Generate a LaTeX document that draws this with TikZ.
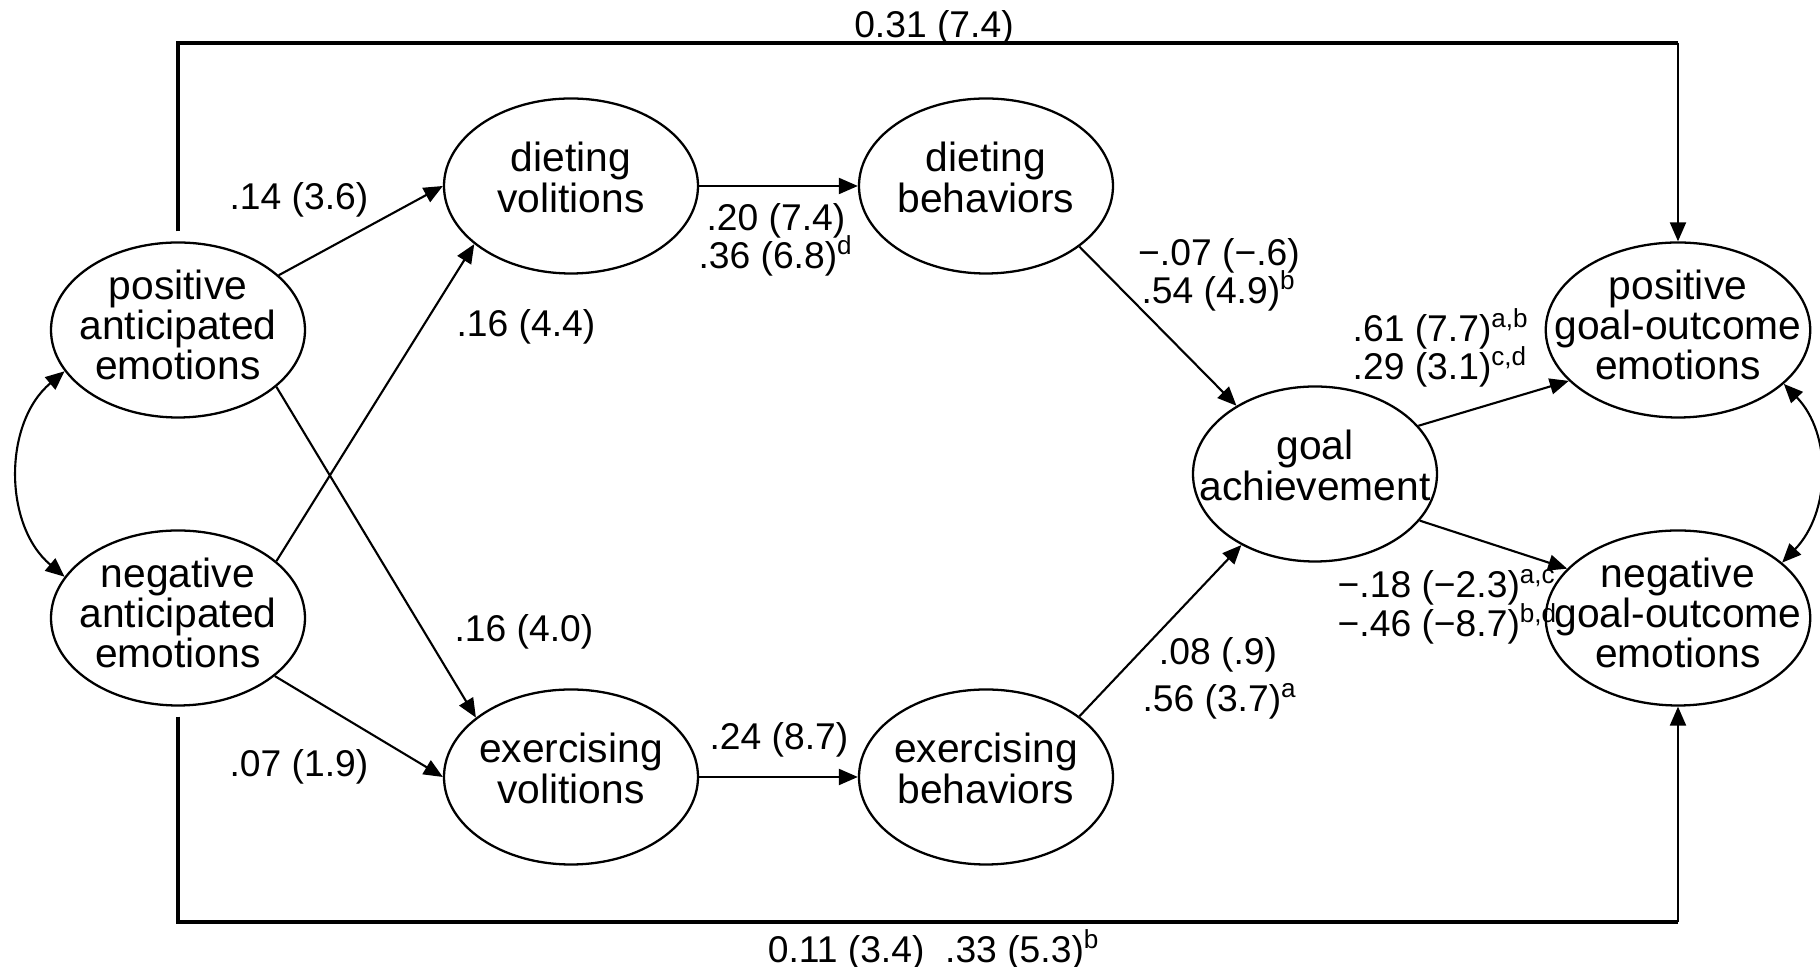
\documentclass[tikz,border=0pt]{standalone}
\usepackage{fontspec}
\setmainfont{Liberation Sans}
\usetikzlibrary{arrows.meta}
\usetikzlibrary{shapes.geometric}
\tikzset{>={Triangle[length=1.9mm,width=1.6mm]}}
\tikzset{
	% latent variables
	latent/.style={draw, ellipse, line width=0.65pt, minimum width=2.54cm, minimum height=1.75cm,
		inner xsep=-0.3cm, inner ysep=0pt, text depth=3pt, align=center,
		font=\fontsize{11.6}{11.4}\selectfont,
		execute at begin node={\lineskiplimit=-100pt\relax}},
	twolines/.style={text depth=5pt},
	% path coefficients
	coef/.style={inner sep=0pt, align=center, font=\fontsize{10.6}{11}\selectfont,
		execute at begin node={\lineskiplimit=-100pt\relax}},
	% arrows
	effect/.style={->, line width=0.6pt},
	covar/.style={<->, line width=0.6pt},
	bracket/.style={line width=0.95pt},
}

\begin{document}
\begin{tikzpicture}
	\useasboundingbox (0,0) rectangle (18.2,9.67);
	
	% anticipated emotions
	\node[latent] (posA) at (1.78,6.37) {positive\\anticipated\\emotions};
	\node[latent] (negA) at (1.78,3.49) {negative\\anticipated\\emotions};
	
	% volitions and behaviors
	\node[latent, twolines] (dietV) at (5.71,7.81) {dieting\\volitions};
	\node[latent, twolines] (dietB) at (9.86,7.81) {dieting\\behaviors};
	\node[latent, twolines] (exV) at (5.71,1.90) {exercising\\volitions};
	\node[latent, twolines] (exB) at (9.86,1.90) {exercising\\behaviors};
	
	% outcomes
	\node[latent, twolines, minimum width=2.44cm] (goal) at (13.15,4.93) {goal\\achievement};
	\node[latent] (posG) at (16.78,6.37) {positive\\goal-outcome\\emotions};
	\node[latent] (negG) at (16.78,3.49) {negative\\goal-outcome\\emotions};
	
	\coordinate (top) at (0,9.24);
	\coordinate (bottom) at (0,0.45);
	
	% paths
	\draw[effect] (posA) -- (dietV.west);
	\draw[effect] (posA.330) -- (exV.148);
	\draw[effect] (negA.30) -- (dietV.211);
	\draw[effect] (negA) -- (exV.west);
	\draw[effect] (dietV) -- (dietB);
	\draw[effect] (exV) -- (exB);
	\draw[effect] (dietB.327) -- (goal.139);
	\draw[effect] (exB.33) -- (goal.224);
	\draw[effect] (goal.25) -- (posG.205);
	\draw[effect] (goal.336) -- (negG.156);
	
	% covariances
	\draw[covar] (posA.200) to[out=220, in=140] (negA.160);
	\draw[covar] (posG.333) to[out=-46, in=46] (negG.28);
	
	% direct effects
	\draw[bracket, shorten <=1mm] (posA.north) -- (posA.north |- top) -- (posG.north |- top);
	\draw[effect] (posG.north |- top) -- (posG.north);
	\draw[bracket, shorten <=1mm] (negA.south) -- (negA.south |- bottom) -- (negG.south |- bottom);
	\draw[effect] (negG.south |- bottom) -- (negG.south);
	
	% coefficients
	\node[coef] (c14) at (2.99,7.67) {.14 (3.6)};
	\node[coef] (c16a) at (5.26,6.40) {.16 (4.4)};
	\node[coef] (c16b) at (5.24,3.35) {.16 (4.0)};
	\node[coef] (c07) at (2.99,2.00) {.07 (1.9)};
	\node[coef] (c20) at (7.76,7.27) {.20 (7.4)\\.36 (6.8)\textsuperscript{d}};
	\node[coef] (c24) at (7.79,2.27) {.24 (8.7)};
	\node[coef] (c07n) at (12.19,6.92) {−.07 (−.6)\\.54 (4.9)\textsuperscript{b}};
	\node[coef] (c08) at (12.18,3.12) {.08 (.9)};
	\node[coef] (c56) at (12.20,2.66) {.56 (3.7)\textsuperscript{a}};
	\node[coef, anchor=west, align=left] (c61) at (13.52,6.19) {.61 (7.7)\textsuperscript{a,b}\\.29 (3.1)\textsuperscript{c,d}};
	\node[coef, anchor=west, align=left] (c18) at (13.37,3.60) {−.18 (−2.3)\textsuperscript{a,c}\\−.46 (−8.7)\textsuperscript{b,d}};
	\node[coef, anchor=base] (c31) at (9.34,9.29) {0.31 (7.4)};
	\node[coef] (c11) at (9.34,0.17) {0.11 (3.4)\ \ .33 (5.3)\textsuperscript{b}};
	
\end{tikzpicture}
\end{document}
